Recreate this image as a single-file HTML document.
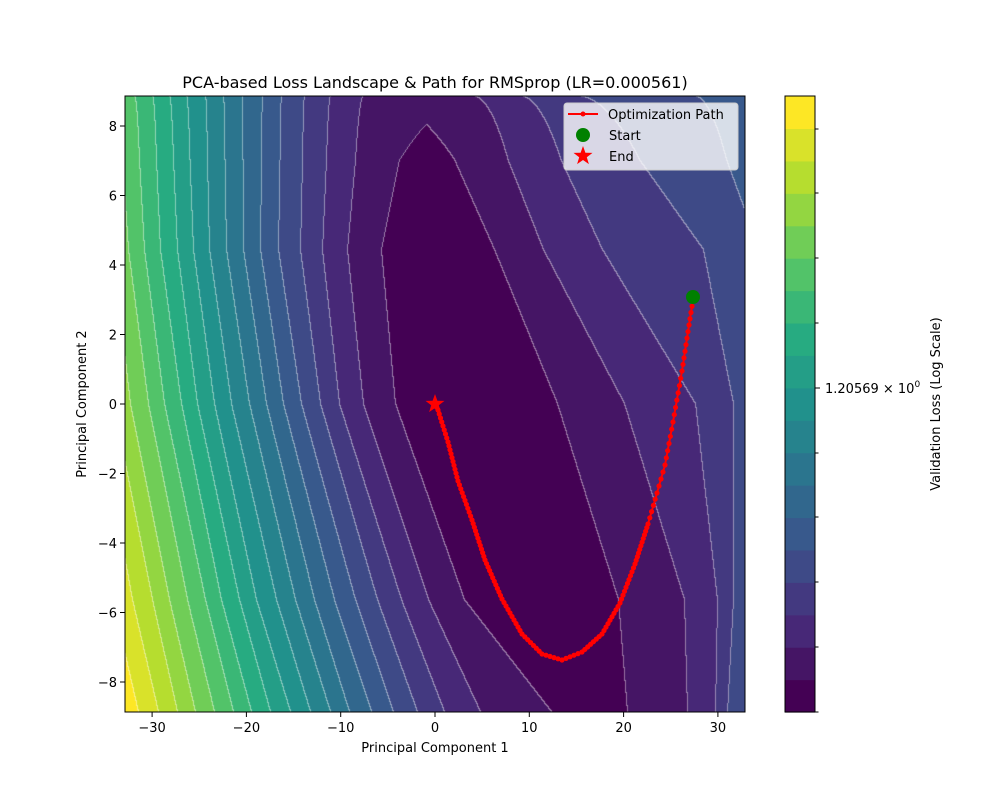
<!DOCTYPE html>
<html><head><meta charset="utf-8"><style>
body{margin:0;background:#fff;width:1000px;height:800px;overflow:hidden;position:relative;font-family:"DejaVu Sans","Liberation Sans",sans-serif}
canvas{position:absolute;left:125px;top:96px}
svg{position:absolute;left:0;top:0}
</style></head><body>
<canvas id="c" width="620" height="616"></canvas>
<svg width="1000" height="800" xmlns="http://www.w3.org/2000/svg" font-family="DejaVu Sans, Liberation Sans, sans-serif">
<g id="cb"></g>
<rect x="125" y="96" width="620" height="616" fill="none" stroke="#000" stroke-width="1"/>
<g id="path"></g>
<circle cx="693" cy="297" r="7" fill="#008000"/>
<polygon id="star" fill="#ff0000"/>
<g id="ticks" font-size="13" fill="#000"></g>
<text x="435" y="88" font-size="16" text-anchor="middle">PCA-based Loss Landscape &amp; Path for RMSprop (LR=0.000561)</text>
<text x="435" y="752" font-size="13" text-anchor="middle">Principal Component 1</text>
<text transform="translate(86,404) rotate(-90)" font-size="13" text-anchor="middle">Principal Component 2</text>
<text transform="translate(940,404) rotate(-90)" font-size="13" text-anchor="middle">Validation Loss (Log Scale)</text>
<text x="825" y="393" font-size="13">1.20569 × 10<tspan dy="-6" font-size="9">0</tspan></text>
<rect x="564" y="103" width="174" height="67" rx="3" fill="#fff" fill-opacity="0.8" stroke="#ccc"/>
<line x1="568" y1="114" x2="598" y2="114" stroke="#f00" stroke-width="2"/>
<circle cx="583" cy="114" r="2.5" fill="#f00"/>
<circle cx="583" cy="135" r="7" fill="#008000"/>
<polygon id="star2" fill="#ff0000"/>
<text x="608" y="119" font-size="13">Optimization Path</text>
<text x="609" y="140" font-size="13">Start</text>
<text x="609" y="161" font-size="13">End</text>
</svg>
<script>
var V=[[0,[68,1,84]],[.125,[71,45,123]],[.25,[59,82,139]],[.375,[44,114,142]],[.5,[33,145,140]],[.625,[40,174,128]],[.75,[94,201,98]],[.875,[173,220,48]],[1,[253,231,37]]];
function vir(t){for(var i=0;i<V.length-1;i++){if(t<=V[i+1][0]){var f=(t-V[i][0])/(V[i+1][0]-V[i][0]);return V[i][1].map(function(a,k){return Math.round(a+(V[i+1][1][k]-a)*f)})}}return V[8][1];}
var cols=[];for(var i=0;i<19;i++)cols.push(vir(i/18));
function ext(a,n){a=a.slice();while(a.length<n){var l=a.length;a.push(a[l-1]+(a[l-1]-a[l-2]));}return a;}
var ROWS=[
[96,ext([480,364,331,305,282,263,243,224,206,187,170,153,135],24),ext([370,473,520,576,694,760],10)],
[160,null,null],
[250,ext([382,348,323,301,279,261,244,227,210,194,178,161,145,129,113],24),ext([495,544,603,704,760],10)],
[404,ext([396,364,340,321,302,284,267,250,232,215,198,182,165,149,131,114],24),ext([558,625,696,734,770],10)],
[600,ext([465,429,402,378,356,335,315,296,277,257,240,222,206,188,170,153,133,113],24),ext([619,685,718,734,760],10)],
[712,ext([552,481,445,418,394,372,350,331,311,291,271,252,234,215,196,178,159,139,120],24),ext([628,688,716,728,745],10)]];
var a=ROWS[0],b=ROWS[2];ROWS[1][1]=a[1].map(function(v,i){return i==0?400:(v+b[1][i])/2});ROWS[1][2]=a[2].map(function(v,i){return i==0?455:(v+b[2][i])/2});
function rowAt(y){var i=0;while(i<ROWS.length-2&&y>ROWS[i+1][0])i++;var r0=ROWS[i],r1=ROWS[i+1],f=Math.max(0,Math.min(1,(y-r0[0])/(r1[0]-r0[0])));
 if(i==0)f=Math.sqrt(f);
 return [r0[1].map(function(v,k){return v+(r1[1][k]-v)*f}),r0[2].map(function(v,k){return v+(r1[2][k]-v)*f})];}
function levAt(x,L,R){
 if(x>=L[0]&&x<=R[0])return 0.5;
 var c=(L[0]+R[0])/2;
 if(x<c){for(var k=0;k<L.length-1;k++){if(x>=L[k+1])return k+1+(L[k]-x)/Math.max(1e-6,L[k]-L[k+1]);}return 30;}
 for(var k=0;k<R.length-1;k++){if(x<=R[k+1])return k+1+(x-R[k])/Math.max(1e-6,R[k+1]-R[k]);}return 30;}
var c=document.getElementById('c'),ctx=c.getContext('2d'),im=ctx.createImageData(620,616),d=im.data;
var B=new Int8Array(620*616);
for(var j=0;j<616;j++){var r=rowAt(96+j+.5);for(var i=0;i<620;i++){var bb=Math.floor(levAt(125+i+.5,r[0],r[1]));if(bb>18)bb=18;if(bb<0)bb=0;B[j*620+i]=bb;}}
for(var j=0;j<616;j++)for(var i=0;i<620;i++){var k=j*620+i,bb=B[k],cc=cols[bb],e=(i<619&&B[k+1]!=bb)||(j<615&&B[k+620]!=bb);
 var o=k*4;for(var q=0;q<3;q++)d[o+q]=e?Math.round(cc[q]*0.55+255*0.45):cc[q];d[o+3]=255;}
ctx.putImageData(im,0,0);
var ns='http://www.w3.org/2000/svg';
function el(n,at,p){var e=document.createElementNS(ns,n);for(var k in at)e.setAttribute(k,at[k]);(p||document.getElementById('ticks')).appendChild(e);return e;}
var cb=document.getElementById('cb');
for(var i=0;i<19;i++){var y0=712-(i+1)*616/19;el('rect',{x:785,y:y0,width:30,height:616/19+0.6,fill:'rgb('+cols[i].join(',')+')'},cb);}
el('rect',{x:785,y:96,width:30,height:616,fill:'none',stroke:'#000','stroke-width':1},cb);
[129,193,258,323,388,453,517,582,647,712].forEach(function(y){el('line',{x1:815,x2:y==388?820:818.5,y1:y,y2:y,stroke:'#000'},cb)});
for(var v=-30;v<=30;v+=10){var x=435+v*9.43;el('line',{x1:x,x2:x,y1:712,y2:717,stroke:'#000'});var t=el('text',{x:x,y:732,'text-anchor':'middle'});t.textContent=(v<0?'\u2212':'')+Math.abs(v);}
for(var v=-8;v<=8;v+=2){var y=404-v*34.75;el('line',{x1:120,x2:125,y1:y,y2:y,stroke:'#000'});var t=el('text',{x:117,y:y+5,'text-anchor':'end'});t.textContent=(v<0?'\u2212':'')+Math.abs(v);}
var P=[[693,300],[689,325],[682,371],[673,422],[665,465],[657,493],[648,524],[635,564],[620,603],[602,634],[582,652],[562,660],[542,654],[522,634],[502,599],[485,560],[472,520],[458,481],[448,442],[438,410],[435,404]];
var g=document.getElementById('path');
el('polyline',{points:P.map(function(p){return p.join(',')}).join(' '),fill:'none',stroke:'#f00','stroke-width':2,'stroke-linejoin':'round'},g);
for(var i=0;i<P.length-1;i++){var p0=P[i],p1=P[i+1],Ln=Math.hypot(p1[0]-p0[0],p1[1]-p0[1]),n=Math.max(1,Math.round(Ln/(i<6?7:4)));for(var k=0;k<n;k++){var f=k/n;el('circle',{cx:p0[0]+(p1[0]-p0[0])*f,cy:p0[1]+(p1[1]-p0[1])*f,r:2.6,fill:'#f00'},g);}}
function star(cx,cy,R){var s=[];for(var i=0;i<10;i++){var r=i%2?R*0.4:R,an=-Math.PI/2+i*Math.PI/5;s.push((cx+r*Math.cos(an)).toFixed(1)+','+(cy+r*Math.sin(an)).toFixed(1));}return s.join(' ');}
document.getElementById('star').setAttribute('points',star(435,404,10));
document.getElementById('star2').setAttribute('points',star(583,156,10));
</script>
</body></html>
